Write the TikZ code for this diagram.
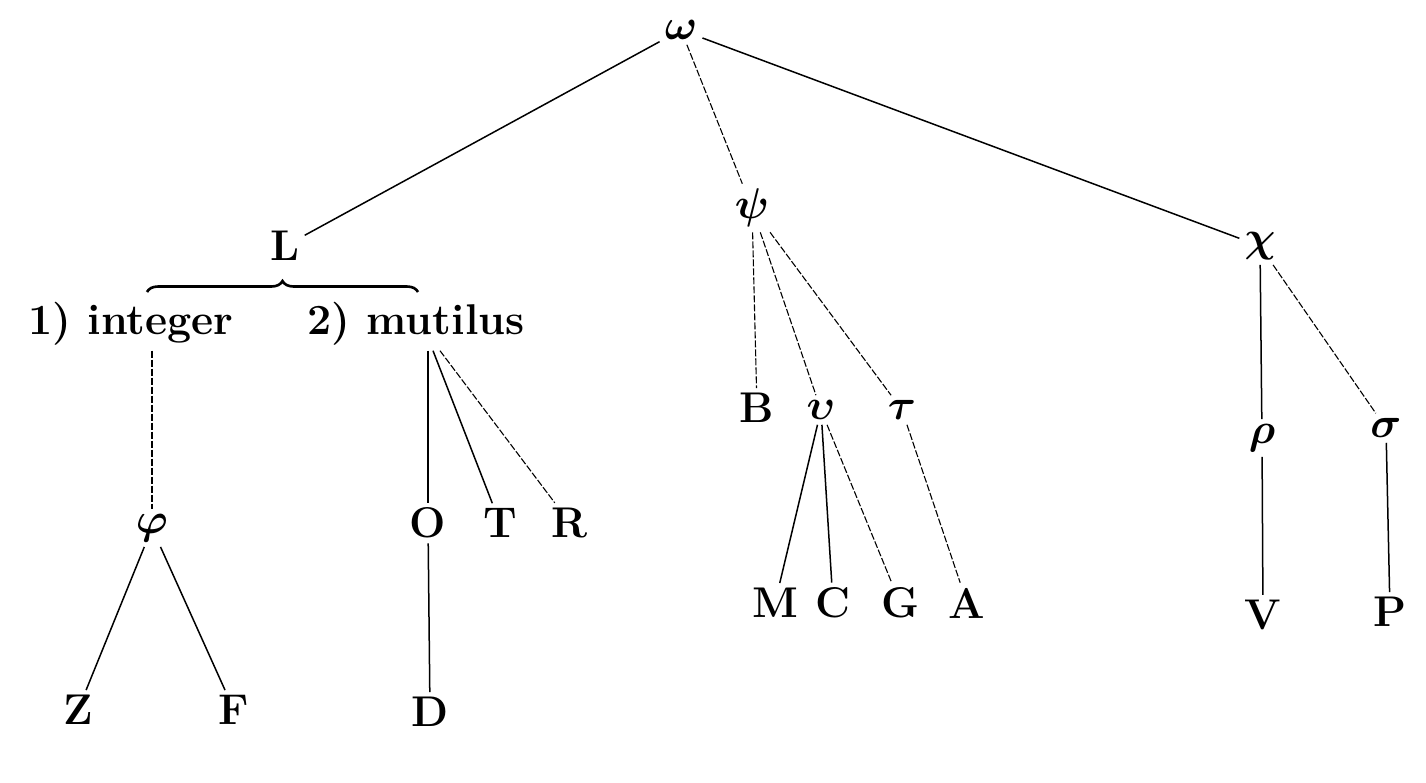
\RequirePackage{fix-cm}
\documentclass[tikz,border=0pt]{standalone}
\usepackage{bm}
\usetikzlibrary{decorations.pathreplacing,calc}
\begin{document}
\begin{tikzpicture}[x=1pt,y=-1pt,
  lbl/.style={font=\fontsize{43}{48}\selectfont\bfseries, inner sep=5pt},
  ln/.style={line width=1.5pt},
  fl/.style={line width=1.1pt, dash pattern=on 7pt off 2pt},
  brc/.style={line width=2.6pt, decorate, decoration={brace, amplitude=11pt}}]
\useasboundingbox (0,0) rectangle (1426,782);
% nodes
\node[lbl] (omega) at (681,30) {$\bm{\omega}$};
\node[lbl] (L) at (285,246) {L};
\node[lbl] (psi) at (752,208) {$\bm{\psi}$};
\node[lbl] (chi) at (1260,246) {$\bm{\chi}$};
\node[lbl] (integer) at (131,324) {1) integer};
\node[lbl] (mutilus) at (416,324) {2) mutilus};
\coordinate (bl) at (147,292);
\coordinate (br) at (418,292);
\node[lbl] (phi) at (152,528) {$\bm{\varphi}$};
\node[lbl] (Z) at (78,710) {Z};
\node[lbl] (F) at (234,710) {F};
\node[lbl] (O) at (428,523) {O};
\node[lbl] (T) at (500,523) {T};
\node[lbl] (R) at (570,523) {R};
\node[lbl] (D) at (430,712) {D};
\node[lbl] (B) at (757,408) {B};
\node[lbl] (ups) at (821,410) {$\bm{\upsilon}$};
\node[lbl] (tau) at (902,410) {$\bm{\tau}$};
\node[lbl] (M) at (775,603) {M};
\node[lbl] (C) at (833,603) {C};
\node[lbl] (G) at (900,603) {G};
\node[lbl] (A) at (967,603) {A};
\node[lbl] (rho) at (1262,438) {$\bm{\rho}$};
\node[lbl] (sigma) at (1386,428) {$\bm{\sigma}$};
\node[lbl] (V) at (1263,615) {V};
\node[lbl] (P) at (1390,612) {P};
% brace
\draw[brc] (bl) -- (br);
% edges
\draw[ln] (omega) -- (L);
\draw[fl] (omega) -- (psi);
\draw[ln] (omega) -- (chi);
\draw[fl] (integer.south -| phi) -- (phi);
\draw[ln] ($(mutilus.south -| O)$) -- (O);
\draw[ln] ($(mutilus.south -| O)+(5,0)$) -- (T);
\draw[fl] ($(mutilus.south -| O)+(12,0)$) -- (R);
\draw[ln] (phi) -- (Z);
\draw[ln] (phi) -- (F);
\draw[ln] (O) -- (D);
\draw[fl] (psi) -- (B);
\draw[fl] (psi) -- (ups);
\draw[fl] (psi) -- (tau);
\draw[ln] (ups) -- (M);
\draw[ln] (ups) -- (C);
\draw[fl] (ups) -- (G);
\draw[fl] (tau) -- (A);
\draw[ln] (chi) -- (rho);
\draw[fl] (chi) -- (sigma);
\draw[ln] (rho) -- (V);
\draw[ln] (sigma) -- (P);
\end{tikzpicture}
\end{document}
